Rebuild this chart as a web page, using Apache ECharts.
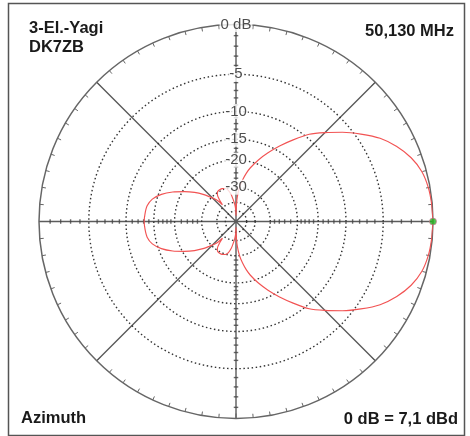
<!DOCTYPE html>
<html><head><meta charset="utf-8">
<script src="https://cdn.jsdelivr.net/npm/echarts@6/dist/echarts.min.js"></script>
<style>html,body{margin:0;padding:0;background:#fff}#c{width:470px;height:436px}</style>
</head><body><div id="c"></div>
<script>
// Azimuth pattern (degrees, counter-clockwise from forward direction) and relative gain in dB
const patternAngles = [0,5,10,15,20,25,30,35,40,45,50,55,60,65,70,75,78,81,84,87,89,90,91,93,95,97,100,104,108,113,118,122,125,127,129,131,134,137,140,145,150,155,160,165,170,175,180,
  185,190,195,200,205,210,215,220,223,226,229,231,233,235,238,242,247,252,256,260,263,265,267,269,270,271,273,276,279,282,285,290,295,300,305,310,315,320,325,330,335,340,345,350,355,360];
const patternDb = [0,-0.05,-0.15,-0.4,-0.95,-1.8,-2.9,-4.4,-6,-7.7,-9.4,-11.7,-14,-16.4,-18.9,-21.7,-23.8,-26.5,-29.8,-35.6,-45,-60,-50,-44,-40.5,-38,-34,-31,-29.8,-29.3,-29.3,-29.7,-31,-33.5,-38,-34,-31.2,-29,-26.6,-23.3,-20.5,-17.8,-15.6,-14.1,-13.4,-13.2,-13.1,
  -13.2,-13.4,-14.1,-15.6,-17.8,-20.5,-23.3,-26.6,-29,-31.2,-34,-38,-33.5,-31,-29.7,-29.3,-29.3,-29.8,-31,-34,-38,-40.5,-44,-50,-60,-45,-35.6,-29.8,-26.5,-23.8,-21.7,-18.9,-16.4,-14,-11.7,-9.4,-7.7,-6,-4.4,-2.9,-1.8,-0.95,-0.4,-0.15,-0.05,0];
const maxPoint = [0, 0]; // [angle, dB]
const ringDb = [0,-5,-10,-15,-20,-30,-40,-50];
const ringLabelDb = [0,-5,-10,-15,-20,-30];
const ringLabels = ['0 dB','-5','-10','-15','-20','-30'];
const axisTickDb = [-1,-2,-3,-4,-6,-7,-8,-9,-11,-12,-13,-14,-16,-17,-18,-19,-22,-24,-26,-28];
const titleLeft = ['3-El.-Yagi','DK7ZB'];
const titleRight = '50,130 MHz';
const footLeft = 'Azimuth';
const footRight = '0 dB = 7,1 dBd';

// ARRL log-periodic radial scale: radius shrinks by 0.89 for every 2 dB
function arrl(db){ return Math.pow(0.89, -db/2); }

const ringAngles = [];
for (let a = 0; a <= 360; a += 2) ringAngles.push(a);

const FONT = '"Liberation Sans", Arial, sans-serif';
const series = [];
ringDb.slice(1).forEach(function(d){
  series.push({
    type:'line', coordinateSystem:'polar', silent:true, symbol:'none', z:1,
    lineStyle:{color:'#333', width:1.4, type:[1.5,2.6]},
    data: ringAngles.map(function(a){ return [arrl(d), a]; })
  });
});
// dB ticks along the main axes
series.push({
  type:'scatter', coordinateSystem:'polar', silent:true, z:2,
  symbol:'rect', symbolSize:[1.4,4.5], itemStyle:{color:'#444'},
  data: axisTickDb.flatMap(function(d){ return [[arrl(d),0],[arrl(d),180]]; })
});
series.push({
  type:'scatter', coordinateSystem:'polar', silent:true, z:2,
  symbol:'rect', symbolSize:[4.5,1.4], itemStyle:{color:'#444'},
  data: axisTickDb.flatMap(function(d){ return [[arrl(d),90],[arrl(d),270]]; })
});
// pattern
series.push({
  type:'line', coordinateSystem:'polar', silent:true, symbol:'none', z:5, smooth:0.2,
  lineStyle:{color:'#f25353', width:1.15},
  data: patternAngles.map(function(a,i){ return [arrl(patternDb[i]), a]; })
});
// maximum marker
series.push({
  type:'scatter', coordinateSystem:'polar', silent:true, z:6,
  symbolSize:7, itemStyle:{color:'#1fb51f', borderColor:'#e070a0', borderWidth:0.8},
  data: [[arrl(maxPoint[1]), maxPoint[0]]]
});
// ring labels
series.push({
  type:'scatter', coordinateSystem:'polar', silent:true, z:7,
  symbolSize:1, itemStyle:{color:'rgba(0,0,0,0)'},
  label:{show:true, position:'inside', fontSize:15, fontFamily:FONT, color:'#222',
    backgroundColor:'#fff', padding:[0,1,0,1],
    formatter:function(p){ return ringLabels[p.dataIndex]; }},
  data: ringLabelDb.map(function(d){ return [arrl(d), 90]; })
});

const chart = echarts.init(document.getElementById('c'), null, {renderer:'canvas'});
chart.setOption({
  animation:false,
  backgroundColor:'#fff',
  polar:{center:[236,221.5], radius:197},
  angleAxis:{
    type:'value', min:0, max:360, interval:45, startAngle:0, clockwise:false,
    axisLine:{show:true, lineStyle:{color:'#666', width:1.5}},
    axisTick:{show:true, inside:true, length:5, lineStyle:{color:'#666', width:1}},
    minorTick:{show:true, splitNumber:9, length:4, lineStyle:{color:'#666', width:1}},
    splitLine:{show:true, lineStyle:{color:'#5c5c5c', width:1.4}},
    axisLabel:{show:false}
  },
  radiusAxis:{
    type:'value', min:0, max:1,
    axisLine:{show:false}, axisTick:{show:false}, axisLabel:{show:false}, splitLine:{show:false}
  },
  graphic:[
    {type:'rect', z:100, silent:true, shape:{x:8.5, y:3.5, width:456, height:432},
      style:{fill:null, stroke:'#555', lineWidth:1.5}},
    {type:'text', x:29, y:28, silent:true, style:{text:titleLeft[0], font:'bold 16.5px '+FONT, fill:'#1a1a1a', verticalAlign:'middle'}},
    {type:'text', x:29, y:47, silent:true, style:{text:titleLeft[1], font:'bold 16.5px '+FONT, fill:'#1a1a1a', verticalAlign:'middle'}},
    {type:'text', x:454, y:31, silent:true, style:{text:titleRight, font:'bold 16.5px '+FONT, fill:'#1a1a1a', align:'right', verticalAlign:'middle'}},
    {type:'text', x:21, y:418.5, silent:true, style:{text:footLeft, font:'bold 16.5px '+FONT, fill:'#1a1a1a', verticalAlign:'middle'}},
    {type:'text', x:458, y:419.5, silent:true, style:{text:footRight, font:'bold 16.5px '+FONT, fill:'#1a1a1a', align:'right', verticalAlign:'middle'}}
  ],
  series: series
});
</script></body></html>
